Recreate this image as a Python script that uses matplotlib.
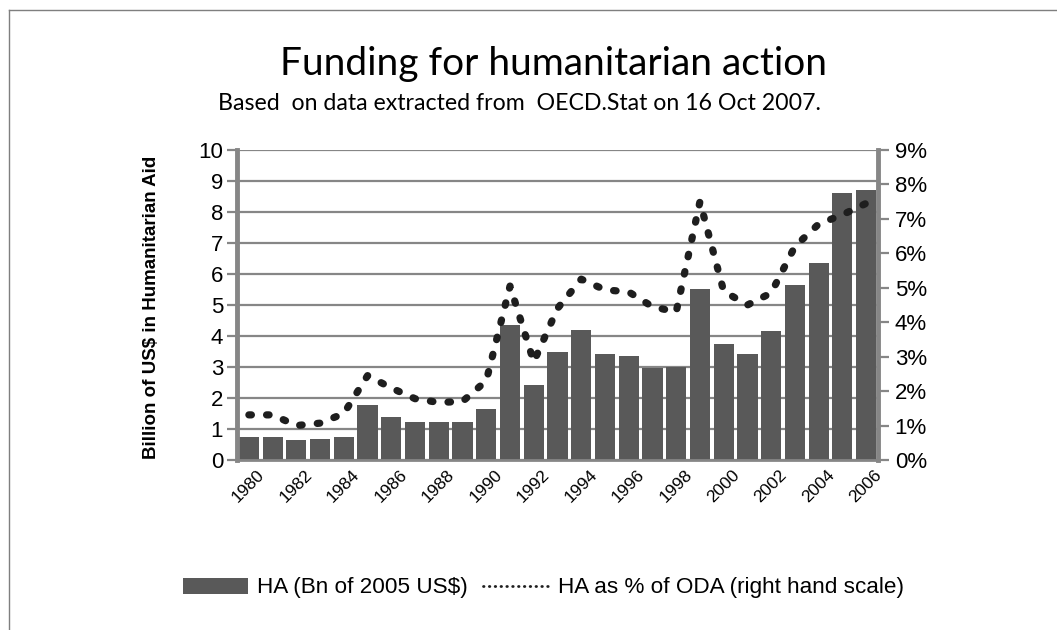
import matplotlib
matplotlib.use("Agg")
import matplotlib.pyplot as plt
from matplotlib.lines import Line2D
from matplotlib.patches import Patch
from matplotlib.ticker import FuncFormatter
from matplotlib.transforms import ScaledTranslation

# data
years = list(range(1980, 2007))
ha_bn = [0.75, 0.75, 0.63, 0.68, 0.75, 1.78, 1.40, 1.22, 1.22, 1.22,
         1.65, 4.37, 2.43, 3.50, 4.20, 3.43, 3.37, 2.97, 3.00, 5.53,
         3.73, 3.43, 4.15, 5.63, 6.37, 8.60, 8.70]
ha_pct = [1.31, 1.31, 1.00, 1.07, 1.35, 2.45, 2.09, 1.78, 1.67, 1.70,
          2.30, 5.05, 2.85, 4.40, 5.25, 4.94, 4.88, 4.45, 4.30, 7.50,
          4.90, 4.50, 4.85, 6.20, 6.85, 7.12, 7.45]
left_ticks = list(range(0, 11))
right_ticks = list(range(0, 10))
year_labels = [str(y) for y in years[::2]]

TITLE = "Funding for humanitarian action"
SUBTITLE = "Based  on data extracted from  OECD.Stat on 16 Oct 2007."
YLABEL = "Billion of US$ in Humanitarian Aid"
BAR_LABEL = "HA (Bn of 2005 US$)"
LINE_LABEL = "HA as % of ODA (right hand scale)"

BAR_COLOR = "#595959"
GRID_COLOR = "#868686"
DOT_COLOR = "#1e1e1e"

plt.rcParams["font.family"] = ["Liberation Sans", "DejaVu Sans"]

fig = plt.figure(figsize=(10.57, 6.30), dpi=100)
ax = fig.add_axes([237 / 1057, 1 - 460 / 630, 641 / 1057, 310 / 630])

ax.bar(years, ha_bn, width=0.85, color=BAR_COLOR, zorder=2)
ax.set_xlim(years[0] - 0.5, years[-1] + 0.5)
ax.set_ylim(0, 10)
ax.set_yticks(left_ticks)
ax.yaxis.grid(True, color=GRID_COLOR, linewidth=1.6, zorder=0)
ax.set_axisbelow(True)
ax.tick_params(axis="y", length=7, width=1.6, color=GRID_COLOR, labelsize=16, pad=3)
ax.set_xticks(years[::2])
ax.set_xticklabels(year_labels, rotation=45, ha="right", va="top",
                   rotation_mode="anchor", fontsize=12.5)
ax.tick_params(axis="x", length=0, pad=5)
shift = ScaledTranslation(8 / 100, 0, fig.dpi_scale_trans)
for lbl in ax.get_xticklabels():
    lbl.set_transform(lbl.get_transform() + shift)

ax.spines["top"].set_visible(False)
ax.spines["right"].set_visible(False)
ax.spines["left"].set_color(GRID_COLOR)
ax.spines["left"].set_linewidth(3.5)
ax.spines["bottom"].set_color(GRID_COLOR)
ax.spines["bottom"].set_linewidth(2)

ax2 = ax.twinx()
ax2.plot(years, ha_pct, color=DOT_COLOR, linewidth=5.2,
         linestyle=(0, (0.35, 2.1)), dash_capstyle="round", zorder=3)
ax2.set_ylim(0, 9)
ax2.set_yticks(right_ticks)
ax2.yaxis.set_major_formatter(FuncFormatter(lambda v, _: f"{v:.0f}%"))
ax2.tick_params(axis="y", length=8, width=1.6, color=GRID_COLOR, labelsize=16, pad=4)
for side in ("top", "left", "bottom"):
    ax2.spines[side].set_visible(False)
ax2.spines["right"].set_color(GRID_COLOR)
ax2.spines["right"].set_linewidth(3.5)

fig.text(553 / 1057, 1 - 75 / 630, TITLE, ha="center", va="baseline",
         fontsize=28, family=["Lato", "DejaVu Sans"])
fig.text(519 / 1057, 1 - 110 / 630, SUBTITLE, ha="center", va="baseline",
         fontsize=16.7, family=["Lato", "DejaVu Sans"])
fig.text(151 / 1057, 1 - 307 / 630, YLABEL, ha="center", va="center",
         rotation=90, fontsize=13.5, fontweight="bold")

handles = [Patch(facecolor=BAR_COLOR, edgecolor="none"),
           Line2D([], [], color=DOT_COLOR, linewidth=2.0,
                  linestyle=(0, (0.2, 1.9)), dash_capstyle="round")]
fig.legend(handles, [BAR_LABEL, LINE_LABEL], loc="center",
           bbox_to_anchor=(543 / 1057, 1 - 588 / 630), ncol=2, frameon=False,
           fontsize=16.2, handlelength=2.9, handleheight=0.7, columnspacing=0.7,
           handletextpad=0.4)

# chart border (cropped on the right and bottom)
fig.add_artist(Line2D([9 / 1057, 9 / 1057], [0, 1 - 10 / 630],
                      transform=fig.transFigure, color="#7f7f7f", linewidth=1))
fig.add_artist(Line2D([9 / 1057, 1], [1 - 10 / 630, 1 - 10 / 630],
                      transform=fig.transFigure, color="#7f7f7f", linewidth=1))

fig.savefig("out.png", dpi=100)
